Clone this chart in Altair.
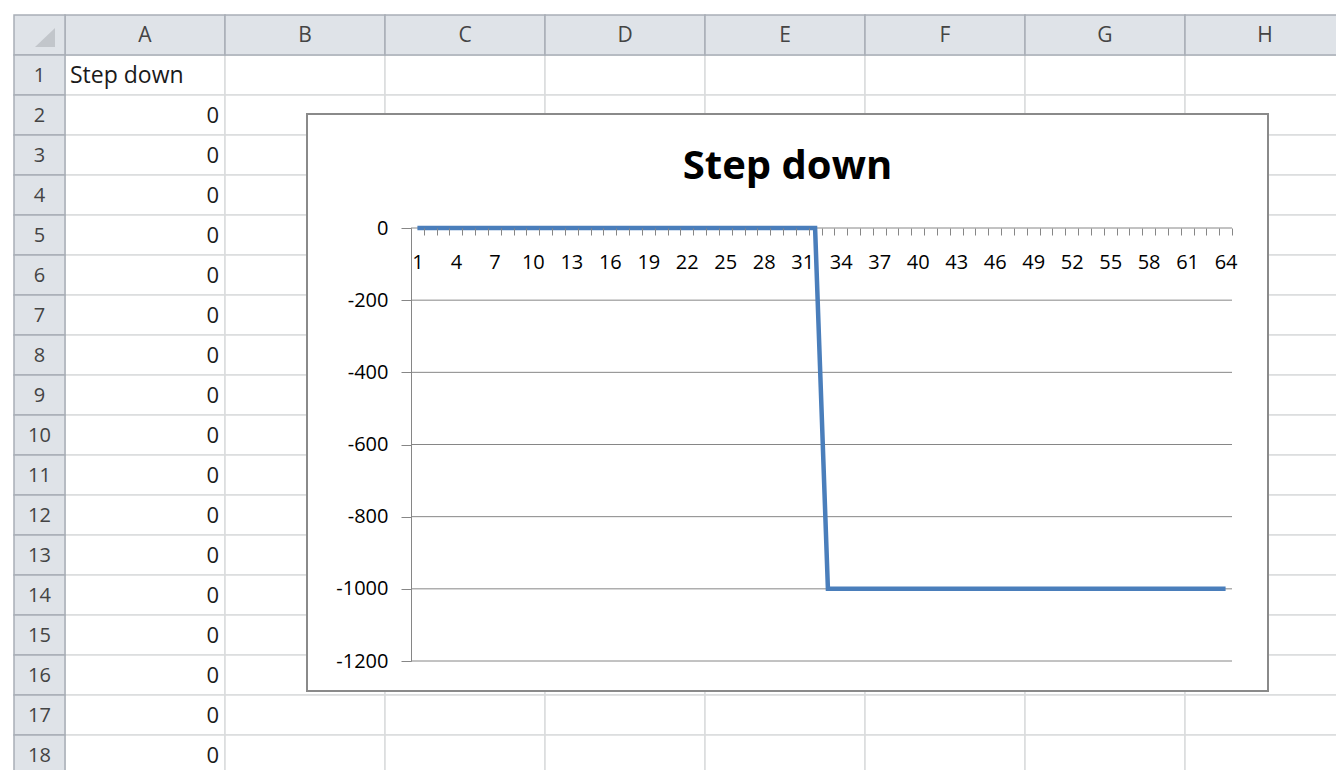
import altair as alt
import pandas as pd

# ---------------- chart data ----------------
title_text = "Step down"
categories = list(range(1, 65))
step_down = [0, 0, 0, 0, 0, 0, 0, 0, 0, 0, 0, 0, 0, 0, 0, 0,
             0, 0, 0, 0, 0, 0, 0, 0, 0, 0, 0, 0, 0, 0, 0, 0,
             -1000, -1000, -1000, -1000, -1000, -1000, -1000, -1000,
             -1000, -1000, -1000, -1000, -1000, -1000, -1000, -1000,
             -1000, -1000, -1000, -1000, -1000, -1000, -1000, -1000,
             -1000, -1000, -1000, -1000, -1000, -1000, -1000, -1000]
x_labels = [1, 4, 7, 10, 13, 16, 19, 22, 25, 28, 31, 34, 37, 40, 43, 46,
            49, 52, 55, 58, 61, 64]
y_ticks = [0, -200, -400, -600, -800, -1000, -1200]

# ---------------- spreadsheet data ----------------
sheet_columns = ["A", "B", "C", "D", "E", "F", "G", "H"]
sheet_rows = list(range(1, 19))
a1_text = "Step down"
a_values = step_down[:17]          # cells A2..A18

FONT = "Open Sans"
GRAY = "#868686"

# ---------------- tables ----------------
chart_df = pd.DataFrame({"cat": categories, "val": step_down})
grid_df = pd.DataFrame({"v": y_ticks})
title_df = pd.DataFrame({"t": [title_text]})
one_df = pd.DataFrame({"k": [0]})

cells_df = pd.DataFrame([{"col": c, "row": r} for c in sheet_columns for r in sheet_rows])
colhdr_df = pd.DataFrame({"col": sheet_columns, "row": [0] * len(sheet_columns)})
rowhdr_df = pd.DataFrame({"rh": ["rh"] * 19, "row": [0] + sheet_rows,
                          "label": [""] + [str(r) for r in sheet_rows]})
text_left_df = pd.DataFrame({"col": ["A"], "row": [1], "t": [a1_text]})
text_right_df = pd.DataFrame({"col": ["A"] * len(a_values),
                              "row": sheet_rows[1:],
                              "t": [str(v) for v in a_values]})

# ---------------- scales ----------------
def colS():
    return alt.Scale(type="band", domain=sheet_columns, range=[57, 1337],
                     paddingInner=0, paddingOuter=0)

def rowS():
    return alt.Scale(type="band", domain=list(range(0, 19)), range=[7, 767],
                     paddingInner=0, paddingOuter=0)

def rhS():
    return alt.Scale(type="band", domain=["rh"], range=[6, 57],
                     paddingInner=0, paddingOuter=0)

def xs():
    return alt.Scale(domain=[0.5, 64.5], range=[403, 1224], nice=False, zero=False)

def ys():
    return alt.Scale(domain=[-1200, 0], range=[653, 220], nice=False, zero=False)

# ---------------- spreadsheet layers ----------------
body_cells = alt.Chart(cells_df).mark_rect(fill="white", stroke="#dadcdd", strokeWidth=1.5).encode(
    x=alt.X("col:N", scale=colS(), axis=None),
    y=alt.Y("row:O", scale=rowS(), axis=None),
)
col_headers = alt.Chart(colhdr_df).mark_rect(fill="#dfe3e8", stroke="#a9afb7", strokeWidth=1.5).encode(
    x=alt.X("col:N", scale=colS(), axis=None),
    y=alt.Y("row:O", scale=rowS(), axis=None),
)
col_header_text = alt.Chart(colhdr_df).mark_text(font=FONT, fontSize=21, color="#444444", baseline="middle", dy=1).encode(
    x=alt.X("col:N", scale=colS(), axis=None),
    y=alt.Y("row:O", scale=rowS(), axis=None),
    text="col:N",
)
row_headers = alt.Chart(rowhdr_df).mark_rect(fill="#dfe3e8", stroke="#a9afb7", strokeWidth=1.5).encode(
    x=alt.X("rh:N", scale=rhS(), axis=None),
    y=alt.Y("row:O", scale=rowS(), axis=None),
)
row_header_text = alt.Chart(rowhdr_df).mark_text(font=FONT, fontSize=20, color="#444444", baseline="middle", dy=1).encode(
    x=alt.X("rh:N", scale=rhS(), axis=None),
    y=alt.Y("row:O", scale=rowS(), axis=None),
    text="label:N",
)
corner = alt.Chart(rowhdr_df.head(1)).mark_point(
    shape="M -0.28 0.75 L 0.97 0.75 L 0.97 -0.44 Z", size=1024, filled=True,
    color="#c2c6cb", opacity=1).encode(
    x=alt.X("rh:N", scale=rhS(), axis=None),
    y=alt.Y("row:O", scale=rowS(), axis=None),
)
cell_text_left = alt.Chart(text_left_df).mark_text(font=FONT, fontSize=23, color="#1a1a1a", align="left",
                                                   baseline="middle", dx=5, dy=1).encode(
    x=alt.X("col:N", scale=colS(), axis=None, bandPosition=0),
    y=alt.Y("row:O", scale=rowS(), axis=None),
    text="t:N",
)
cell_text_right = alt.Chart(text_right_df).mark_text(font=FONT, fontSize=22, color="#1a1a1a", align="right",
                                                     baseline="middle", dx=-6, dy=1).encode(
    x=alt.X("col:N", scale=colS(), axis=None, bandPosition=1),
    y=alt.Y("row:O", scale=rowS(), axis=None),
    text="t:N",
)

# ---------------- chart layers ----------------
frame = alt.Chart(one_df).mark_rect(fill="white", stroke="#8a8a8a", strokeWidth=2).encode(
    x=alt.value(299), x2=alt.value(1260), y=alt.value(106), y2=alt.value(683)
)
title = alt.Chart(title_df).mark_text(font=FONT, fontSize=40, fontWeight="bold", color="black",
                                      baseline="middle").encode(
    x=alt.value(779.5), y=alt.value(159), text="t:N"
)
gridlines = alt.Chart(grid_df).mark_rule(color=GRAY, strokeWidth=1).encode(
    y=alt.Y("v:Q", scale=ys(), axis=None),
    x=alt.XDatum(0.5, scale=xs(), axis=None),
    x2=alt.X2Datum(64.5),
)
tick_axis_layer = alt.Chart(chart_df).mark_point(opacity=0, size=1).encode(
    x=alt.X("cat:Q", scale=xs(), axis=alt.Axis(
        values=[c - 0.5 for c in categories] + [categories[-1] + 0.5],
        orient="bottom", offset=-542, labels=False, ticks=True, tickSize=7,
        tickColor=GRAY, tickWidth=1, domain=False, grid=False, title=None, zindex=1)),
    y=alt.Y("val:Q", scale=ys(), axis=alt.Axis(
        values=y_ticks, orient="left", offset=-403, tickSize=10, tickColor=GRAY,
        domainColor=GRAY, domainWidth=1, labelFont=FONT, labelFontSize=20, labelColor="black",
        labelPadding=13, labelExpr="'' + datum.value", labelFlush=False, labelOverlap=False,
        grid=False, title=None, zindex=1)),
)
line = alt.Chart(chart_df).mark_line(color="#4A7EBB", strokeWidth=4.5, clip=False).encode(
    x=alt.X("cat:Q", scale=xs(), axis=alt.Axis(
        values=x_labels, orient="bottom", offset=-542, ticks=False, domain=False,
        labelFont=FONT, labelFontSize=20, labelColor="black", labelPadding=24,
        labelFlush=False, labelOverlap=False, grid=False, title=None, zindex=1)),
    y=alt.Y("val:Q", scale=ys(), axis=None),
)

chart = alt.layer(
    body_cells, col_headers, col_header_text, row_headers, row_header_text, corner,
    cell_text_left, cell_text_right,
    frame, title, gridlines, tick_axis_layer, line,
).resolve_scale(x="independent", y="independent").properties(
    width=1328, height=762, autosize="none", padding=0, background="white"
).configure_view(strokeWidth=0)

chart.save("out.html", embed_options={"renderer": "svg", "actions": False})
